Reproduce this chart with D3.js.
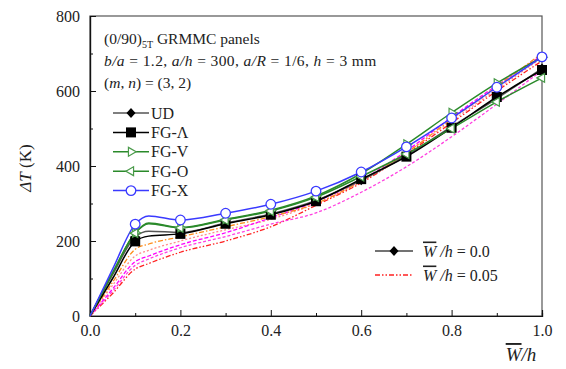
<!DOCTYPE html>
<html>
<head>
<meta charset="utf-8">
<script src="https://d3js.org/d3.v7.min.js"></script>
<style>
  body { margin: 0; background: #fff; }
  svg text { font-family: "Liberation Serif", "Times New Roman", Tinos, "DejaVu Serif", serif !important; fill: #222; }
</style>
</head>
<body>
<div id="chart"></div>
<script>
// W/h positions shared by every curve
var xs = [0, 0.05, 0.1, 0.13, 0.2, 0.3, 0.4, 0.5, 0.6, 0.7, 0.8, 0.9, 1.0];

// W*/h = 0.0 curves (solid, with markers)
var ud   = [0, 110, 211, 226, 223, 248, 272, 308, 362, 428, 505, 580, 660];
var fgL  = [0, 100, 199, 213, 219, 246, 270, 306, 365, 425, 502, 584, 656];
var fgV  = [0, 115, 222, 248, 236, 258, 282, 320, 380, 458, 542, 621, 690];
var fgO  = [0, 115, 221, 246, 235, 256, 280, 317, 372, 432, 500, 571, 635];
var fgX  = [0, 125, 245, 267, 256, 274, 298, 333, 384, 451, 528, 610, 691];

// W*/h = 0.05 curves (dashed)
var dOrange  = [0, 90, 178, 192, 211, 238, 265, 300, 360, 435, 525, 612, 700];
var dMagenta = [0, 72, 145, 160, 190, 222, 262, 305, 362, 440, 530, 615, 695];
var dPink    = [0, 66, 135, 152, 182, 212, 245, 275, 330, 398, 478, 565, 655];
var dRed     = [0, 60, 125, 140, 170, 200, 238, 295, 355, 432, 515, 600, 680];
var dSalmon  = [0, 82, 160, 175, 200, 230, 258, 300, 358, 436, 520, 605, 688];

var xTicks = [0, 0.2, 0.4, 0.6, 0.8, 1.0];
var yTicks = [0, 200, 400, 600, 800];

var W = 566, H = 369;
var m = {top: 16, right: 24, bottom: 53, left: 90};
var w = W - m.left - m.right, h = H - m.top - m.bottom;

var svg = d3.select("#chart").append("svg").attr("width", W).attr("height", H)
  .attr("font-family", "Liberation Serif");
var g = svg.append("g").attr("transform", "translate(" + m.left + "," + m.top + ")");

var x = d3.scaleLinear().domain([0, 1]).range([0, w]);
var y = d3.scaleLinear().domain([0, 800]).range([h, 0]);

// frame
g.append("rect").attr("width", w).attr("height", h)
  .attr("fill", "none").attr("stroke", "#555").attr("stroke-width", 1.2);

// ticks pointing inward
g.append("g").attr("transform", "translate(0," + h + ")")
  .call(d3.axisBottom(x).tickValues(xTicks).tickFormat(d3.format(".1f")).tickSize(-6).tickPadding(9));
g.append("g").attr("transform", "translate(0," + h + ")")
  .call(d3.axisBottom(x).tickValues([0.1, 0.3, 0.5, 0.7, 0.9]).tickFormat("").tickSize(-3));
g.append("g")
  .call(d3.axisLeft(y).tickValues(yTicks).tickSize(-6).tickPadding(10));
g.append("g")
  .call(d3.axisLeft(y).tickValues([100, 300, 500, 700]).tickFormat("").tickSize(-3));
g.selectAll(".domain").attr("stroke", "#111").attr("stroke-width", 1.2);
g.selectAll(".tick line").attr("stroke", "#111");
g.selectAll(".tick text").style("font-size", "16px").attr("fill", "#333");

// axis titles
var yl = svg.append("text").attr("transform", "translate(31,168) rotate(-90)")
  .attr("text-anchor", "middle").style("font-size", "17px");
yl.append("tspan").style("font-style", "italic").text("ΔT");
yl.append("tspan").text("  (K)");

var xl = svg.append("text").attr("x", 521).attr("y", 361).attr("text-anchor", "middle")
  .style("font-size", "19px").style("font-style", "italic");
xl.append("tspan").style("text-decoration", "overline").text("W");
xl.append("tspan").text("/h");

// annotation
var ann = g.append("g").style("font-size", "15.5px");
var t1 = ann.append("text").attr("x", 14).attr("y", 28);
t1.append("tspan").text("(0/90)");
t1.append("tspan").attr("dy", 4).style("font-size", "10px").text("5T");
t1.append("tspan").attr("dy", -4).text(" GRMMC panels");
var t2 = ann.append("text").attr("x", 14).attr("y", 50).style("letter-spacing", "0.4px");
[["b/a", 1], [" = 1.2, ", 0], ["a/h", 1], [" = 300,  ", 0], ["a/R", 1], [" = 1/6, ", 0], ["h", 1], [" = 3 mm", 0]]
  .forEach(function (p) { t2.append("tspan").style("font-style", p[1] ? "italic" : "normal").text(p[0]); });
var t3 = ann.append("text").attr("x", 14).attr("y", 72);
[["(", 0], ["m", 1], [", ", 0], ["n", 1], [") = (3, 2)", 0]]
  .forEach(function (p) { t3.append("tspan").style("font-style", p[1] ? "italic" : "normal").text(p[0]); });

var line = d3.line().x(function (d) { return x(d[0]); }).y(function (d) { return y(d[1]); })
  .curve(d3.curveMonotoneX);
function pts(vals) { return xs.map(function (v, i) { return [v, vals[i]]; }); }

var dashed = [
  {v: dSalmon, c: "#ff8c8c", dash: "2,2"},
  {v: dRed, c: "#ff2020", dash: "5,2,1.5,2,1.5,2"},
  {v: dPink, c: "#ff40e0", dash: "3,2"},
  {v: dMagenta, c: "#ff00ff", dash: "4,2"},
  {v: dOrange, c: "#ff8c1a", dash: "5,2,1.5,2"}
];
dashed.forEach(function (s) {
  g.append("path").datum(pts(s.v)).attr("d", line).attr("fill", "none")
    .attr("stroke", s.c).attr("stroke-width", 1.3).attr("stroke-dasharray", s.dash);
});

var triR = d3.symbol().type(d3.symbolTriangle).size(34)();
var series = [
  {name: "UD", v: ud, c: "#555", mk: "diamond"},
  {name: "FG-Λ", v: fgL, c: "#000", mk: "square"},
  {name: "FG-V", v: fgV, c: "#2a8a2a", mk: "triR"},
  {name: "FG-O", v: fgO, c: "#2a8a2a", mk: "triL"},
  {name: "FG-X", v: fgX, c: "#3a3aff", mk: "circle"}
];

function marker(sel, s) {
  if (s.mk === "diamond") {
    sel.append("path").attr("d", "M0,-5L4.5,0L0,5L-4.5,0Z").attr("fill", "#000");
  } else if (s.mk === "square") {
    sel.append("rect").attr("x", -5).attr("y", -5).attr("width", 10).attr("height", 10).attr("fill", "#000");
  } else if (s.mk === "triR") {
    sel.append("path").attr("d", triR).attr("transform", "rotate(90)")
      .attr("fill", "#fff").attr("stroke", "#4a9a4a").attr("stroke-width", 1.2);
  } else if (s.mk === "triL") {
    sel.append("path").attr("d", triR).attr("transform", "rotate(-90)")
      .attr("fill", "#fff").attr("stroke", "#4a9a4a").attr("stroke-width", 1.2);
  } else {
    sel.append("circle").attr("r", 4.8).attr("fill", "#fff")
      .attr("stroke", "#3a3aff").attr("stroke-width", 1.3);
  }
}

series.forEach(function (s) {
  g.append("path").datum(pts(s.v)).attr("d", line).attr("fill", "none")
    .attr("stroke", s.c).attr("stroke-width", 1.5);
});
series.forEach(function (s) {
  pts(s.v).filter(function (d) { return d[0] >= 0.1 && Math.abs(d[0] * 10 - Math.round(d[0] * 10)) < 1e-6; })
    .forEach(function (d) {
      marker(g.append("g").attr("transform", "translate(" + x(d[0]) + "," + y(d[1]) + ")"), s);
    });
});

// legend of laminates
var lg = g.append("g").attr("transform", "translate(23,97)");
series.forEach(function (s, i) {
  var r = lg.append("g").attr("transform", "translate(0," + (i * 19.4) + ")");
  r.append("line").attr("x1", 0).attr("x2", 36).attr("stroke", s.c).attr("stroke-width", 1.5);
  marker(r.append("g").attr("transform", "translate(18,0)"), s);
  r.append("text").attr("x", 38).attr("y", 5.5).style("font-size", "16px").text(s.name);
});

// legend of W/h
var lg2 = g.append("g").attr("transform", "translate(285,235)");
var wh = [{lab: " = 0.0", c: "#444", dash: null}, {lab: " = 0.05", c: "#ff2020", dash: "5,2,1.5,2,1.5,2"}];
wh.forEach(function (s, i) {
  var r = lg2.append("g").attr("transform", "translate(0," + (i * 24) + ")");
  r.append("line").attr("x1", 0).attr("x2", 38).attr("stroke", s.c).attr("stroke-width", 1.3)
    .attr("stroke-dasharray", s.dash);
  if (i === 0) marker(r.append("g").attr("transform", "translate(19,0)"), series[0]);
  var t = r.append("text").attr("x", 48).attr("y", 5.5).style("font-size", "16px");
  t.append("tspan").style("font-style", "italic").style("text-decoration", "overline").text("W");
  t.append("tspan").style("font-style", "italic").text(" /h");
  t.append("tspan").text(s.lab);
});
</script>
</body>
</html>
